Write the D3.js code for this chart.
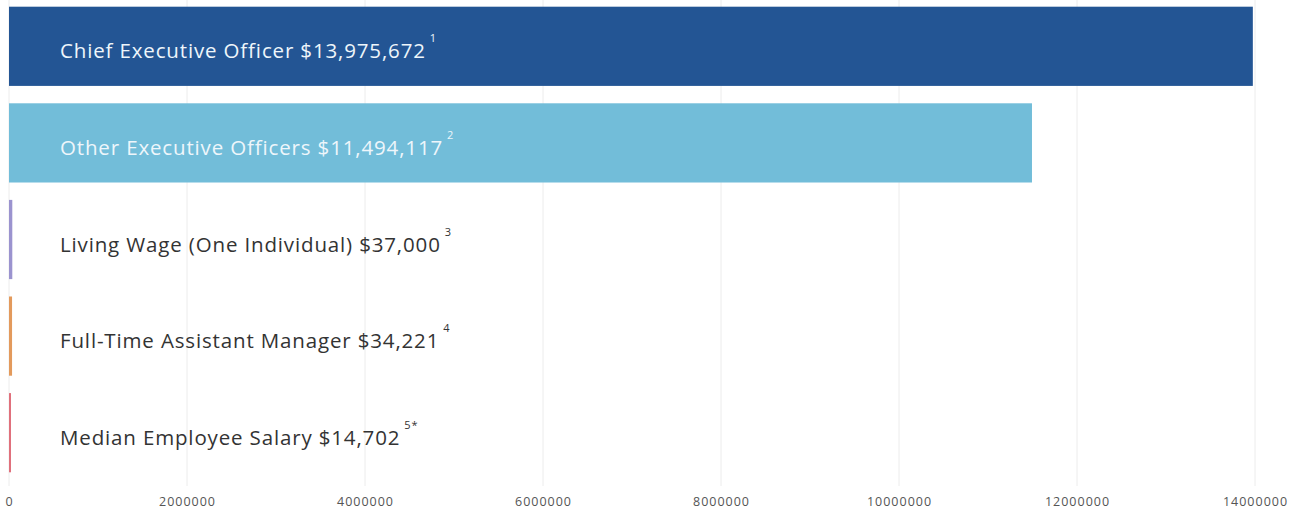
<!DOCTYPE html>
<html>
<head>
<meta charset="utf-8">
<script src="https://cdn.jsdelivr.net/npm/d3@7"></script>
<style>
  body { margin: 0; background: #fff; }
  svg { display: block; font-family: "Open Sans", Lato, sans-serif; }
</style>
</head>
<body>
<div id="chart"></div>
<script>
const categories = [
    'Chief Executive Officer $13,975,672',
    'Other Executive Officers $11,494,117',
    'Living Wage (One Individual) $37,000',
    'Full-Time Assistant Manager $34,221',
    'Median Employee Salary $14,702'
];
const values = [13975672, 11494117, 37000, 34221, 14702];
const notes = ['1', '2', '3', '4', '5*'];
const barColors = ['#235594', '#72bdd9', '#9b93cf', '#e39a5c', '#e0707c'];
const textColors = ['#eef6fb', '#eef6fb', '#333', '#333', '#333'];
const tickValues = [0, 2000000, 4000000, 6000000, 8000000, 10000000, 12000000, 14000000];

const width = 1296,
height = 511;

const svg = d3.select('#chart')
  .append('svg')
  .attr('width', width)
  .attr('height', height);

const x = d3.scaleLinear().domain([0, 14000000]).range([9, 1255]);
const y = d3.scaleBand().domain(categories).range([-2, 481]).paddingInner(0.18).paddingOuter(0.09);

// grid lines
svg.append('g')
    .selectAll('line')
    .data(tickValues)
    .enter().append('line')
    .attr('x1', d => x(d)).attr('x2', d => x(d))
    .attr('y1', 0).attr('y2', 486)
    .attr('stroke', '#ececec')
    .attr('stroke-width', 1);

// bars
svg.append('g')
    .selectAll('rect')
    .data(values)
    .enter().append('rect')
    .attr('x', x(0))
    .attr('y', (d, i) => y(categories[i]))
    .attr('width', d => Math.max(x(d) - x(0), 2))
    .attr('height', y.bandwidth())
    .attr('fill', (d, i) => barColors[i]);

// labels
const labels = svg.append('g')
    .selectAll('text')
    .data(categories)
    .enter().append('text')
    .attr('x', 60)
    .attr('y', d => y(d) + y.bandwidth() / 2 + 12)
    .attr('fill', (d, i) => textColors[i])
    .attr('font-size', 20.5)
    .attr('letter-spacing', 0.85)
    .text(d => d);

labels.append('tspan')
    .attr('dx', 4)
    .attr('dy', -16)
    .attr('font-size', 11)
    .text((d, i) => notes[i]);

// axis
const axis = svg.append('g')
    .attr('transform', 'translate(0,486)')
    .call(d3.axisBottom(x).tickValues(tickValues).tickFormat(d3.format('d')).tickSize(0).tickPadding(11));
axis.select('.domain').remove();
axis.selectAll('text')
    .attr('fill', '#555')
    .attr('font-size', 12.5)
    .attr('letter-spacing', 1)
    .attr('font-family', '"Open Sans", Lato, sans-serif');
</script>
</body>
</html>
